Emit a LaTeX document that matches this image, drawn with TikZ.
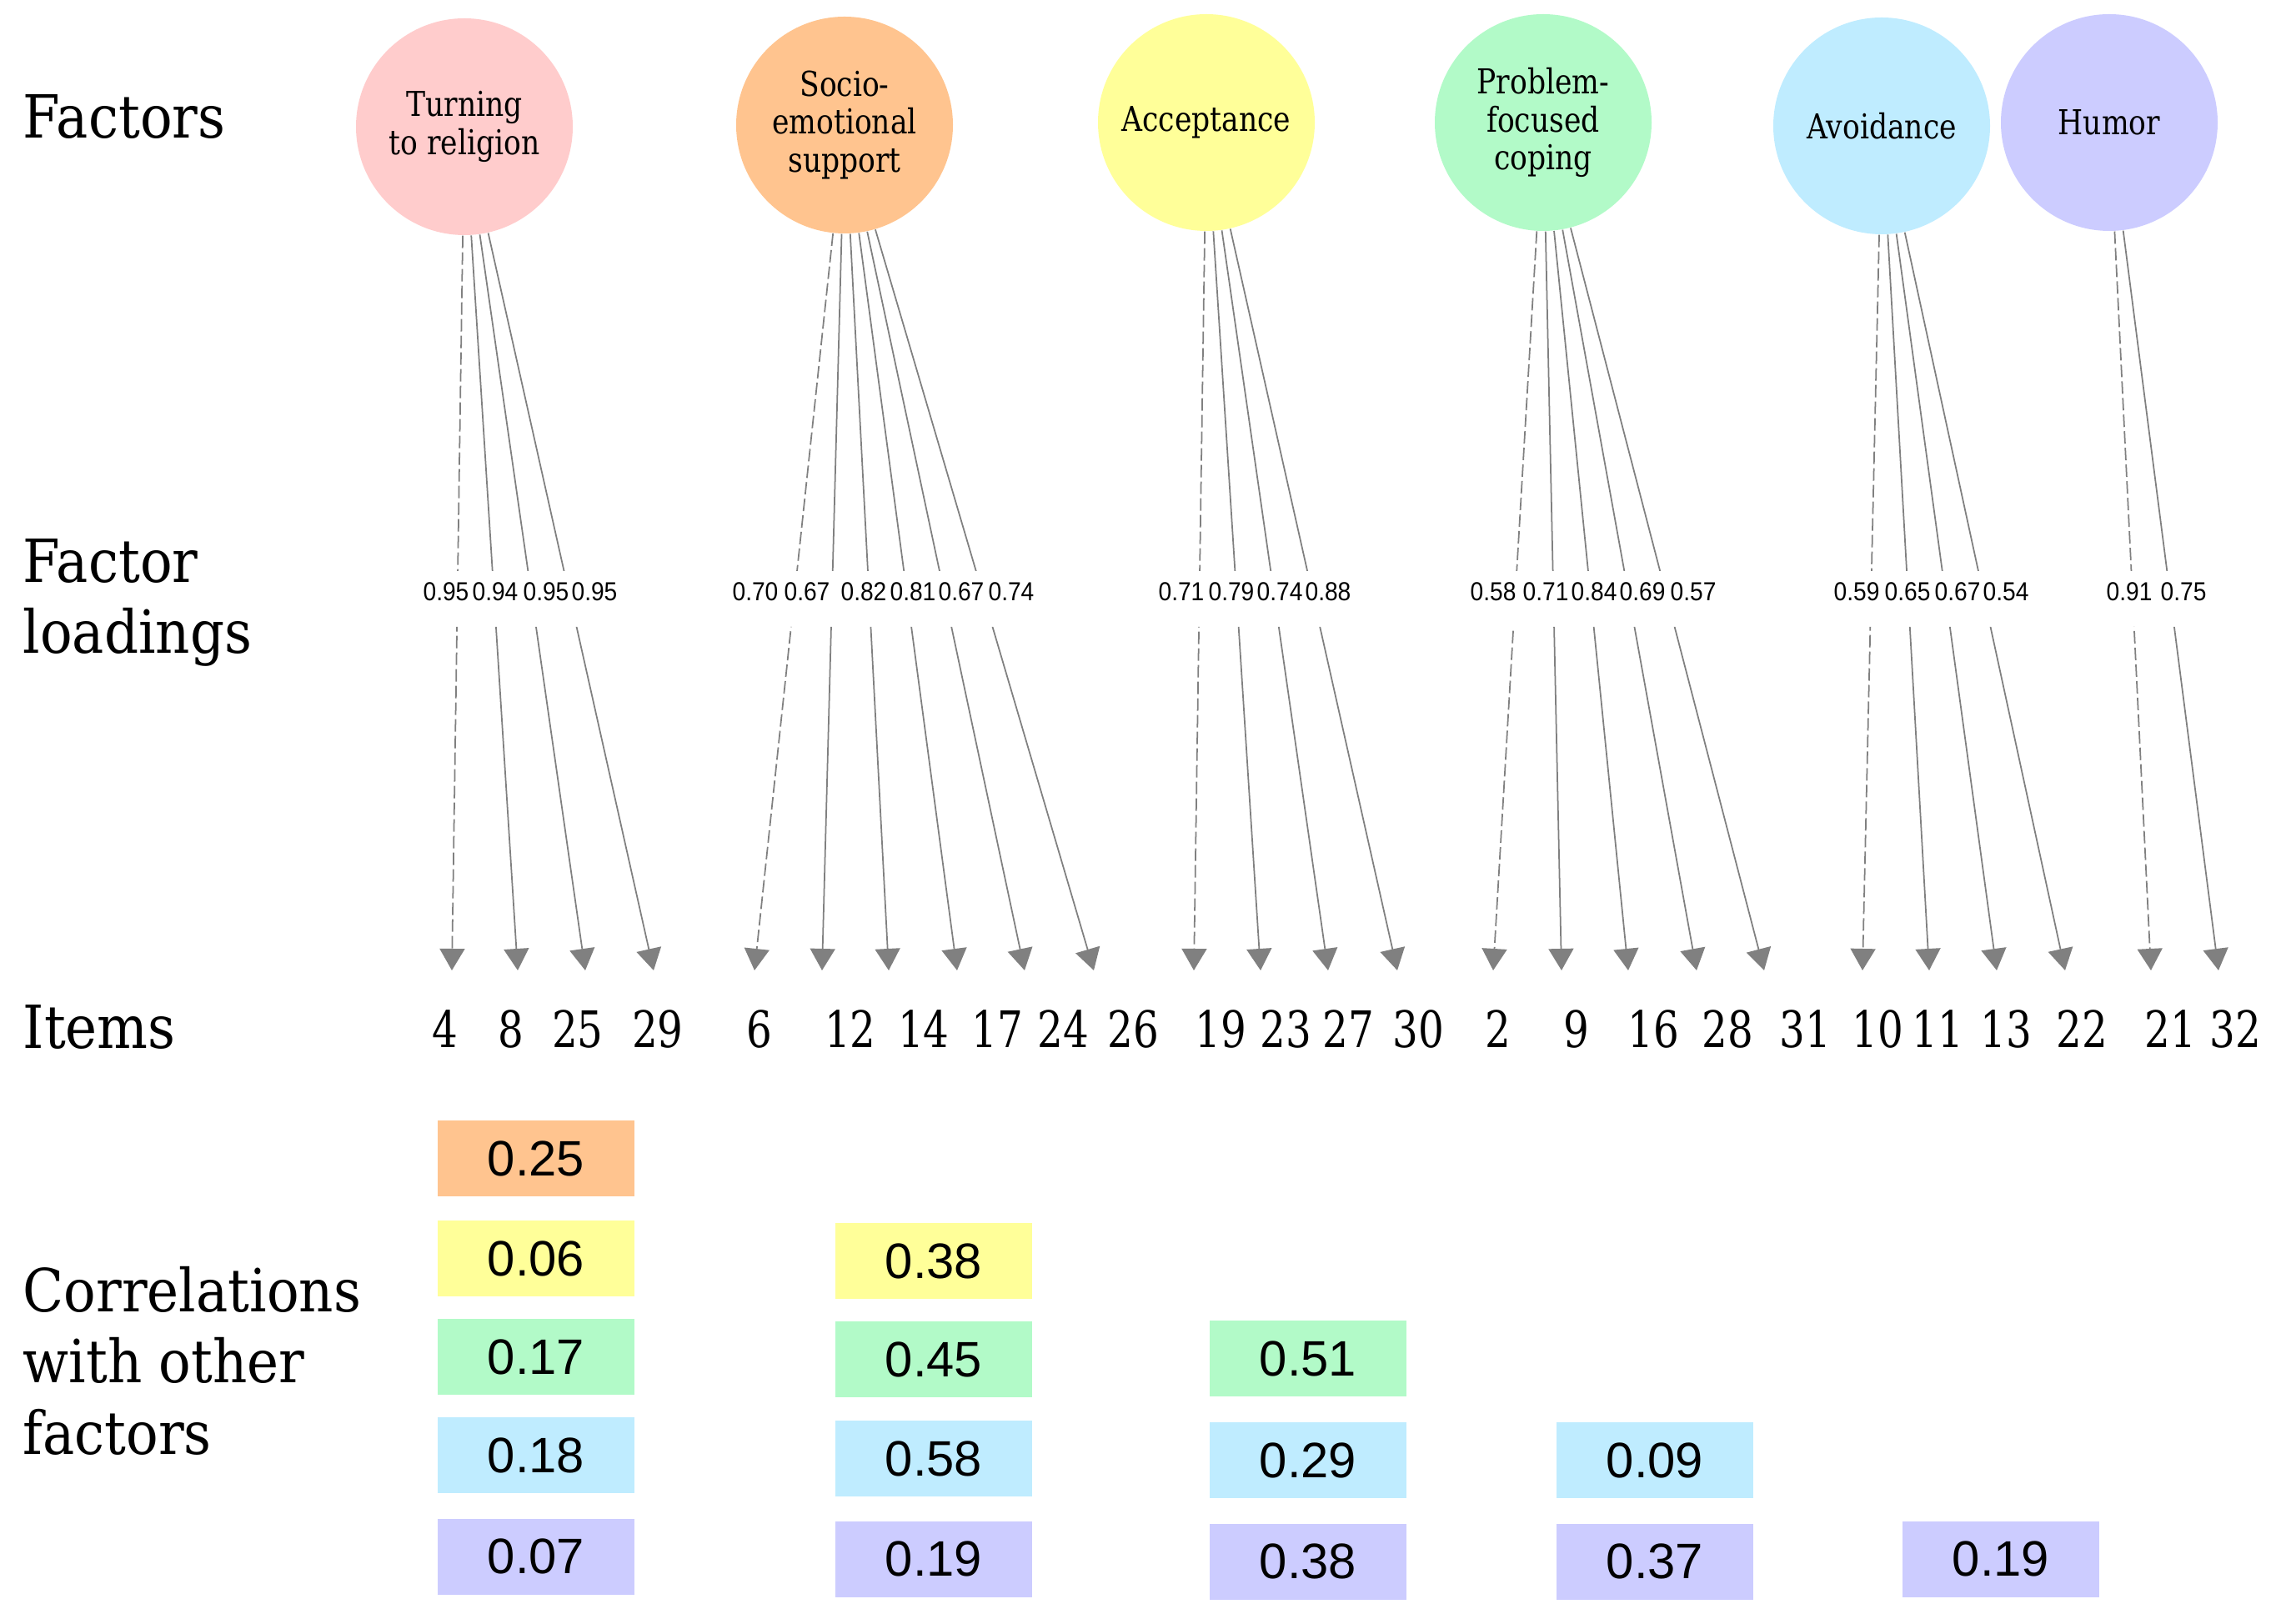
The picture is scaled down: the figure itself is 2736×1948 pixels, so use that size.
\documentclass[tikz,border=0pt]{standalone}
\usepackage{fontspec}
\usepackage{tikz}
\usetikzlibrary{arrows.meta}
\setmainfont{DejaVu Serif}
\newfontfamily\sidefont[FakeStretch=0.9]{DejaVu Serif}
\newfontfamily\circfont[FakeStretch=0.84]{DejaVu Serif}
\newfontfamily\itemfont[FakeStretch=0.8]{DejaVu Serif}
\newfontfamily\loadfont[FakeStretch=0.9]{Liberation Sans}
\newfontfamily\corrfont{Liberation Sans}
\definecolor{religcolor}{RGB}{255,204,204}
\definecolor{sociocolor}{RGB}{255,196,143}
\definecolor{acceptcolor}{RGB}{255,255,153}
\definecolor{probcolor}{RGB}{178,250,200}
\definecolor{avoidcolor}{RGB}{191,236,255}
\definecolor{humorcolor}{RGB}{204,204,255}
\definecolor{edgegray}{RGB}{128,128,128}

\begin{document}
\begin{tikzpicture}[
    x=0.1mm, y=-0.1mm,
    factor/.style={circle, minimum size=26mm, inner sep=0pt, align=center, font=\circfont\fontsize{11.7}{12.95}\selectfont},
    side/.style={inner sep=0pt, align=left, font=\sidefont\fontsize{20.3}{24.2}\selectfont},
    loading/.style={inner sep=0pt, font=\loadfont\fontsize{8.9}{10}\selectfont},
    item/.style={inner sep=0pt, anchor=base, font=\itemfont\fontsize{17.2}{20}\selectfont},
    corr/.style={minimum width=23.6mm, minimum height=9.1mm, inner sep=0pt, font=\corrfont\fontsize{17}{20}\selectfont},
    arrow/.style={-{Triangle[length=2.6mm, width=3mm]}, line width=0.5pt, edgegray},
    refarrow/.style={arrow, dash pattern=on 1.5mm off 0.5mm}
]
    \useasboundingbox (0,0) rectangle (2736,1948);

    % Row labels
    \node[side, anchor=base west] (lblfactors) at (27,166) {Factors};
    \node[side, anchor=north west] (lblloadings) at (27,646) {Factor\\loadings};
    \node[side, anchor=base west] (lblitems) at (27,1258) {Items};
    \node[side, anchor=north west] (lblcorr) at (27,1519) {Correlations\\with other\\factors};

    % Factors
    \node[factor, fill=religcolor] (relig) at (557,152) {Turning\\to religion};
    \node[factor, fill=sociocolor] (socio) at (1013,150) {Socio-\\emotional\\support};
    \node[factor, fill=acceptcolor] (accept) at (1447,147) {Acceptance};
    \node[factor, fill=probcolor] (prob) at (1851,147) {Problem-\\focused\\coping};
    \node[factor, fill=avoidcolor] (avoid) at (2257,151) {Avoidance};
    \node[factor, fill=humorcolor] (humor) at (2530,147) {Humor};

    % Arrow ends
    \coordinate (t4) at (542,1164); \coordinate (t8) at (621,1164);
    \coordinate (t25) at (702,1164); \coordinate (t29) at (784,1164);
    \coordinate (t6) at (905,1164); \coordinate (t12) at (986,1164);
    \coordinate (t14) at (1066,1164); \coordinate (t17) at (1148,1164);
    \coordinate (t24) at (1229,1164); \coordinate (t26) at (1312,1164);
    \coordinate (t19) at (1432,1164); \coordinate (t23) at (1512,1164);
    \coordinate (t27) at (1593,1164); \coordinate (t30) at (1676,1164);
    \coordinate (t2) at (1791,1164); \coordinate (t9) at (1873,1164);
    \coordinate (t16) at (1953,1164); \coordinate (t28) at (2035,1164);
    \coordinate (t31) at (2116,1164);
    \coordinate (t10) at (2234,1164); \coordinate (t11) at (2314,1164);
    \coordinate (t13) at (2395,1164); \coordinate (t22) at (2477,1164);
    \coordinate (t21) at (2580,1164); \coordinate (t32) at (2661,1164);

    % Loadings (lines left open where the values sit)
    \begin{scope}
        \clip (0,0) rectangle (2736,685) (0,752) rectangle (2736,1948);
        \draw[refarrow] (relig) -- (t4);
        \draw[arrow] (relig) -- (t8);
        \draw[arrow] (relig) -- (t25);
        \draw[arrow] (relig) -- (t29);
        \draw[refarrow] (socio) -- (t6);
        \draw[arrow] (socio) -- (t12);
        \draw[arrow] (socio) -- (t14);
        \draw[arrow] (socio) -- (t17);
        \draw[arrow] (socio) -- (t24);
        \draw[arrow] (socio) -- (t26);
        \draw[refarrow] (accept) -- (t19);
        \draw[arrow] (accept) -- (t23);
        \draw[arrow] (accept) -- (t27);
        \draw[arrow] (accept) -- (t30);
        \draw[refarrow] (prob) -- (t2);
        \draw[arrow] (prob) -- (t9);
        \draw[arrow] (prob) -- (t16);
        \draw[arrow] (prob) -- (t28);
        \draw[arrow] (prob) -- (t31);
        \draw[refarrow] (avoid) -- (t10);
        \draw[arrow] (avoid) -- (t11);
        \draw[arrow] (avoid) -- (t13);
        \draw[arrow] (avoid) -- (t22);
        \draw[refarrow] (humor) -- (t21);
        \draw[arrow] (humor) -- (t32);
    \end{scope}

    % Loading values
    \node[loading] (l4) at (535,710) {0.95}; \node[loading] (l8) at (594,710) {0.94};
    \node[loading] (l25) at (655,710) {0.95}; \node[loading] (l29) at (713,710) {0.95};
    \node[loading] (l6) at (906,710) {0.70}; \node[loading] (l12) at (968,710) {0.67};
    \node[loading] (l14) at (1036,710) {0.82}; \node[loading] (l17) at (1095,710) {0.81};
    \node[loading] (l24) at (1153,710) {0.67}; \node[loading] (l26) at (1213,710) {0.74};
    \node[loading] (l19) at (1417,710) {0.71}; \node[loading] (l23) at (1477,710) {0.79};
    \node[loading] (l27) at (1535,710) {0.74}; \node[loading] (l30) at (1593,710) {0.88};
    \node[loading] (l2) at (1791,710) {0.58}; \node[loading] (l9) at (1854,710) {0.71};
    \node[loading] (l16) at (1912,710) {0.84}; \node[loading] (l28) at (1970,710) {0.69};
    \node[loading] (l31) at (2031,710) {0.57};
    \node[loading] (l10) at (2227,710) {0.59}; \node[loading] (l11) at (2288,710) {0.65};
    \node[loading] (l13) at (2348,710) {0.67}; \node[loading] (l22) at (2406,710) {0.54};
    \node[loading] (l21) at (2554,710) {0.91}; \node[loading] (l32) at (2619,710) {0.75};

    % Items
    \node[item] (i4) at (534,1257) {4}; \node[item] (i8) at (613,1257) {8};
    \node[item] (i25) at (693,1257) {25}; \node[item] (i29) at (789,1257) {29};
    \node[item] (i6) at (911,1257) {6}; \node[item] (i12) at (1020,1257) {12};
    \node[item] (i14) at (1108,1257) {14}; \node[item] (i17) at (1196,1257) {17};
    \node[item] (i24) at (1275,1257) {24}; \node[item] (i26) at (1359,1257) {26};
    \node[item] (i19) at (1464,1257) {19}; \node[item] (i23) at (1542,1257) {23};
    \node[item] (i27) at (1617,1257) {27}; \node[item] (i30) at (1701,1257) {30};
    \node[item] (i2) at (1797,1257) {2}; \node[item] (i9) at (1891,1257) {9};
    \node[item] (i16) at (1983,1257) {16}; \node[item] (i28) at (2072,1257) {28};
    \node[item] (i31) at (2165,1257) {31};
    \node[item] (i10) at (2252,1257) {10}; \node[item] (i11) at (2324,1257) {11};
    \node[item] (i13) at (2406,1257) {13}; \node[item] (i22) at (2497,1257) {22};
    \node[item] (i21) at (2603,1257) {21}; \node[item] (i32) at (2681,1257) {32};

    % Correlations between factors
    \node[corr, fill=sociocolor] (relig-socio) at (643,1390) {0.25};
    \node[corr, fill=acceptcolor] (relig-accept) at (643,1510) {0.06};
    \node[corr, fill=probcolor] (relig-prob) at (643,1628) {0.17};
    \node[corr, fill=avoidcolor] (relig-avoid) at (643,1746) {0.18};
    \node[corr, fill=humorcolor] (relig-humor) at (643,1867) {0.07};

    \node[corr, fill=acceptcolor] (socio-accept) at (1120,1513) {0.38};
    \node[corr, fill=probcolor] (socio-prob) at (1120,1631) {0.45};
    \node[corr, fill=avoidcolor] (socio-avoid) at (1120,1750) {0.58};
    \node[corr, fill=humorcolor] (socio-humor) at (1120,1870) {0.19};

    \node[corr, fill=probcolor] (accept-prob) at (1569,1630) {0.51};
    \node[corr, fill=avoidcolor] (accept-avoid) at (1569,1752) {0.29};
    \node[corr, fill=humorcolor] (accept-humor) at (1569,1873) {0.38};

    \node[corr, fill=avoidcolor] (prob-avoid) at (1985,1752) {0.09};
    \node[corr, fill=humorcolor] (prob-humor) at (1985,1873) {0.37};

    \node[corr, fill=humorcolor] (avoid-humor) at (2400,1870) {0.19};
\end{tikzpicture}
\end{document}
